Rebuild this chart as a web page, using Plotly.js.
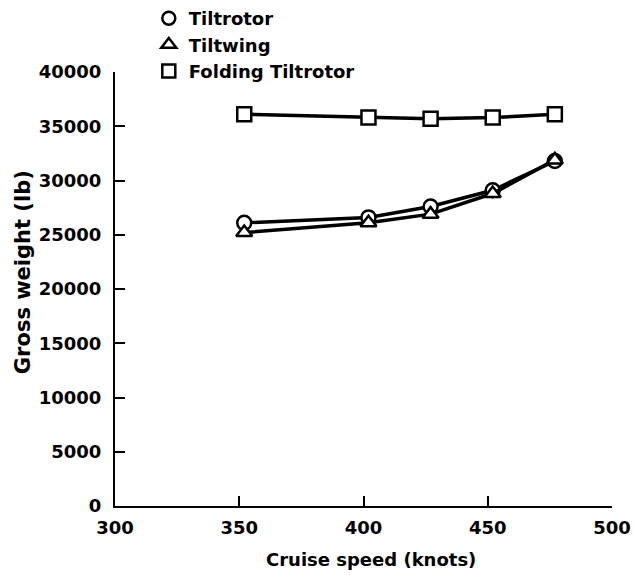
<!DOCTYPE html>
<html>
<head>
<meta charset="utf-8">
<script src="https://cdn.plot.ly/plotly-3.0.1.min.js"></script>
<style>html,body{margin:0;padding:0;background:#fff;}#chart{width:634px;height:579px;}</style>
</head>
<body>
<div id="chart"></div>
<script>
const speeds = [352, 402, 427, 452, 477];
const tiltrotor = [26100, 26600, 27600, 29100, 31800];
const tiltwing = [25200, 26100, 26900, 28800, 31900];
const foldingTiltrotor = [36100, 35800, 35700, 35800, 36100];
const seriesNames = ['Tiltrotor', 'Tiltwing', 'Folding Tiltrotor'];
const xTicks = [300, 350, 400, 450, 500];
const yTicks = [0, 5000, 10000, 15000, 20000, 25000, 30000, 35000, 40000];
const xTitle = 'Cruise speed (knots)';
const yTitle = 'Gross weight (lb)';

const FONT = 'DejaVu Sans, Verdana, sans-serif';
const symbols = ['circle', 'triangle-up', 'square'];
const seriesData = [tiltrotor, tiltwing, foldingTiltrotor];

const traces = [];
[2, 0, 1].forEach(i => {
  traces.push({
    x: speeds, y: seriesData[i], mode: 'lines+markers', showlegend: false,
    line: {color: '#000', width: 3.5},
    marker: {symbol: symbols[i], size: 14, color: '#fff', line: {color: '#000', width: 2.5}},
    hoverinfo: 'skip'
  });
});
[0, 1, 2].forEach(i => {
  traces.push({
    x: [null], y: [null], mode: 'markers', name: seriesNames[i],
    marker: {symbol: symbols[i], size: 13, color: '#fff', line: {color: '#000', width: 2.5}}
  });
});

const tf = {family: FONT, size: 18, color: '#000', weight: 'bold'};
const layout = {
  width: 634, height: 579,
  margin: {l: 115, r: 22, t: 72, b: 73, autoexpand: false},
  paper_bgcolor: '#fff', plot_bgcolor: '#fff',
  font: tf,
  showlegend: true,
  legend: {x: 0.068, y: 1.166, xanchor: 'left', yanchor: 'top', bgcolor: 'rgba(0,0,0,0)',
           font: {family: FONT, size: 18, color: '#000', weight: 'bold'}, tracegroupgap: 0},
  xaxis: {
    range: [300, 500], tickmode: 'array', tickvals: xTicks, ticktext: xTicks.map(String),
    showgrid: false, zeroline: false, showline: true, linecolor: '#000', linewidth: 2,
    ticks: 'inside', ticklen: 10, tickwidth: 2, tickcolor: '#000',
    tickfont: tf, ticklabelstandoff: 4, fixedrange: true
  },
  yaxis: {
    range: [0, 40000], tickmode: 'array', tickvals: yTicks, ticktext: yTicks.map(String),
    showgrid: false, zeroline: false, showline: true, linecolor: '#000', linewidth: 2,
    ticks: 'inside', ticklen: 10, tickwidth: 2, tickcolor: '#000',
    tickfont: tf, ticklabelstandoff: 8, fixedrange: true
  },
  annotations: [
    {text: xTitle, xref: 'paper', yref: 'paper', x: 0.516, y: -0.1244, xanchor: 'center', yanchor: 'middle',
     showarrow: false, font: {family: FONT, size: 18, color: '#000', weight: 'bold'}},
    {text: yTitle, xref: 'paper', yref: 'paper', x: -0.185, y: 0.539, xanchor: 'center', yanchor: 'middle',
     textangle: -90, showarrow: false, font: {family: FONT, size: 21, color: '#000', weight: 'bold'}}
  ]
};

Plotly.newPlot('chart', traces, layout, {displayModeBar: false, staticPlot: true});
</script>
</body>
</html>
